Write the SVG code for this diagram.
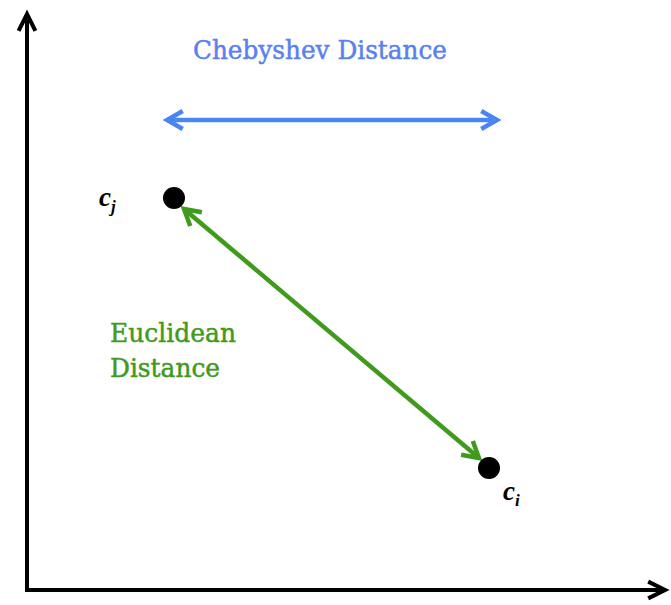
<svg xmlns="http://www.w3.org/2000/svg" width="671" height="605" viewBox="0 0 671 605">
<style>
.axis{stroke:#000;stroke-width:4;fill:none}
.lbl{font-family:"DejaVu Serif","Liberation Serif",serif;font-weight:normal}
.ci{font-family:"Liberation Serif",serif;font-style:italic;font-weight:bold;font-size:27px;fill:#000}
</style>
<defs>
<marker id="ah" viewBox="0 0 10 10" refX="8" refY="5" markerWidth="5" markerHeight="5" orient="auto-start-reverse" markerUnits="strokeWidth">
<path d="M1,1 L8,5 L1,9" fill="none" stroke="context-stroke" stroke-width="2"/>
</marker>
<marker id="ahk" viewBox="0 0 10 10" refX="8" refY="5" markerWidth="6" markerHeight="6" orient="auto-start-reverse" markerUnits="strokeWidth">
<path d="M1,1.5 L8,5 L1,8.5" fill="none" stroke="#000" stroke-width="1.7"/>
</marker>
</defs>
<rect width="671" height="605" fill="#fff"/>
<g id="connectors">
<path id="y-axis" class="axis" d="M27,590 L27,14" marker-end="url(#ahk)"/>
<path id="x-axis" class="axis" d="M25,590 L665,590" marker-end="url(#ahk)"/>
<path id="chebyshev" d="M167,120 L497,120" stroke="#4a86f2" stroke-width="4.5" fill="none" marker-start="url(#ah)" marker-end="url(#ah)"/>
<path id="euclidean" d="M184,209 L479,458" stroke="#3f9a1e" stroke-width="4.5" fill="none" marker-start="url(#ah)" marker-end="url(#ah)"/>
</g>
<g id="cj">
<circle cx="174" cy="198" r="11" fill="#000"/>
<text class="ci" x="99" y="206">c<tspan font-size="17" dy="6">j</tspan></text>
</g>
<g id="ci">
<circle cx="489" cy="468" r="11" fill="#000"/>
<text class="ci" x="503" y="500">c<tspan font-size="17" dy="6">i</tspan></text>
</g>
<g id="chebyshev-label">
<text class="lbl" x="193" y="59" font-size="26" textLength="254" lengthAdjust="spacingAndGlyphs" fill="#5a80f0" stroke="#5a80f0" stroke-width="0.5">Chebyshev Distance</text>
</g>
<g id="euclidean-label">
<text class="lbl" x="110" y="342" font-size="26" textLength="126" lengthAdjust="spacingAndGlyphs" fill="#3f9a1e" stroke="#3f9a1e" stroke-width="0.5">Euclidean</text>
<text class="lbl" x="110" y="377" font-size="26" textLength="110" lengthAdjust="spacingAndGlyphs" fill="#3f9a1e" stroke="#3f9a1e" stroke-width="0.5">Distance</text>
</g>
</svg>
